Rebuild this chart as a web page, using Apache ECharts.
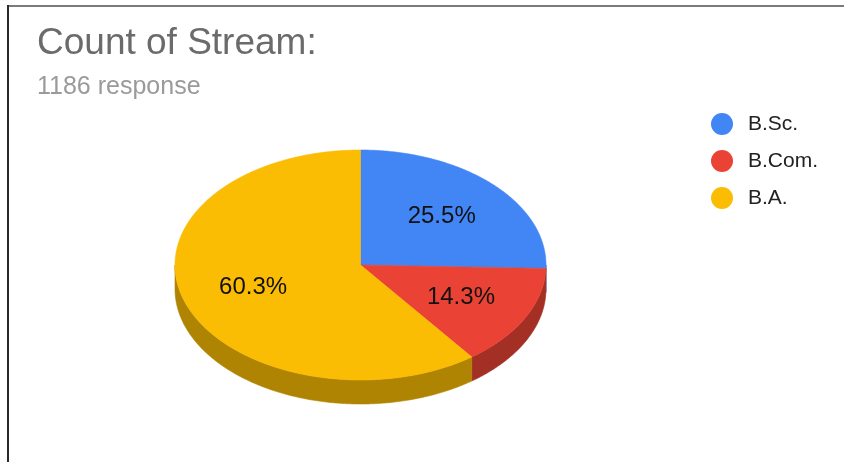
<!DOCTYPE html>
<html>
<head>
<meta charset="utf-8">
<script src="https://cdn.jsdelivr.net/npm/echarts@6/dist/echarts.min.js"></script>
<style>
html,body{margin:0;padding:0;background:#fff;}
#chart{width:844px;height:462px;}
</style>
</head>
<body>
<div id="chart"></div>
<script>
// ---- data ----
var categories = ['B.Sc.', 'B.Com.', 'B.A.'];
var shares = [25.5, 14.3, 60.3];          // percent labels
var topColors = ['#4285F4', '#EA4335', '#FBBC04'];
var sideColors = ['#2E5DAB', '#A42F25', '#B08403'];
var titleText = 'Count of Stream:';
var subtitleText = '1186 response';

// ---- layout (positions only) ----
var CX = 360.5, CY = 265, RX = 185.5, RY = 115, DEPTH = 24, LABEL_F = 0.61;
var FONT = "'Liberation Sans', Arial, sans-serif";

var total = shares.reduce(function (a, b) { return a + b; }, 0);
var starts = [];
(function () { var acc = 0; for (var i = 0; i < shares.length; i++) { starts.push(acc); acc += shares[i]; } })();

function pt(theta, dz, f) {
  f = f == null ? 1 : f;
  return [CX + f * RX * Math.sin(theta), CY - f * RY * Math.cos(theta) + dz];
}
function arc(a0, a1, dz) {
  var pts = [];
  var n = Math.max(2, Math.ceil((a1 - a0) / 0.01));
  for (var k = 0; k <= n; k++) pts.push(pt(a0 + (a1 - a0) * k / n, dz));
  return pts;
}

function makeRender(idx) {
  return function (params, api) {
    var s = api.value(0), v = api.value(1);
    var a0 = s / total * Math.PI * 2;
    var a1 = (s + v) / total * Math.PI * 2;
    var children = [];
    // side wall (front half only: theta in [pi/2, 3pi/2])
    var b0 = Math.max(a0, Math.PI / 2), b1 = Math.min(a1, Math.PI * 3 / 2);
    if (b1 > b0) {
      var topArc = arc(b0, b1, 0);
      var botArc = arc(b0, b1, DEPTH).reverse();
      children.push({
        type: 'polygon', z2: 1,
        shape: { points: topArc.concat(botArc) },
        style: { fill: sideColors[idx], stroke: sideColors[idx], lineWidth: 0.6 }
      });
    }
    // top face
    var face = [[CX, CY]].concat(arc(a0, a1, 0));
    children.push({
      type: 'polygon', z2: 10,
      shape: { points: face },
      style: { fill: topColors[idx], stroke: topColors[idx], lineWidth: 0.6 }
    });
    // label
    var mid = (a0 + a1) / 2;
    var lp = pt(mid, 0, LABEL_F);
    children.push({
      type: 'text', z2: 20,
      x: lp[0], y: lp[1],
      style: {
        text: api.value(1).toFixed(1) + '%',
        fill: '#111', font: '24px ' + FONT,
        align: 'center', verticalAlign: 'middle'
      }
    });
    return { type: 'group', children: children };
  };
}

var series = categories.map(function (name, i) {
  return {
    type: 'custom',
    name: name,
    coordinateSystem: 'none',
    itemStyle: { color: topColors[i] },
    data: [[starts[i], shares[i]]],
    renderItem: makeRender(i),
    silent: true
  };
});

var chart = echarts.init(document.getElementById('chart'), null, { renderer: 'canvas' });
chart.setOption({
  animation: false,
  backgroundColor: '#fff',
  title: {
    text: titleText,
    subtext: subtitleText,
    left: 32, top: 20,
    itemGap: 13,
    textStyle: { fontFamily: FONT, fontSize: 37, fontWeight: 'normal', color: '#6b6b6b' },
    subtextStyle: { fontFamily: FONT, fontSize: 25, color: '#9a9a9a' }
  },
  legend: {
    orient: 'vertical',
    left: 706, top: 108,
    icon: 'circle',
    itemWidth: 22, itemHeight: 22,
    itemGap: 15,
    selectedMode: false,
    data: categories,
    textStyle: { fontFamily: FONT, fontSize: 21, color: '#222', padding: [0, 0, 0, 10] }
  },
  graphic: [
    { type: 'line', shape: { x1: 7, y1: 6, x2: 844, y2: 6 }, style: { stroke: '#7a7a7a', lineWidth: 2 } },
    { type: 'line', shape: { x1: 8, y1: 5, x2: 8, y2: 462 }, style: { stroke: '#2a2a2a', lineWidth: 2 } }
  ],
  series: series
});
</script>
</body>
</html>
